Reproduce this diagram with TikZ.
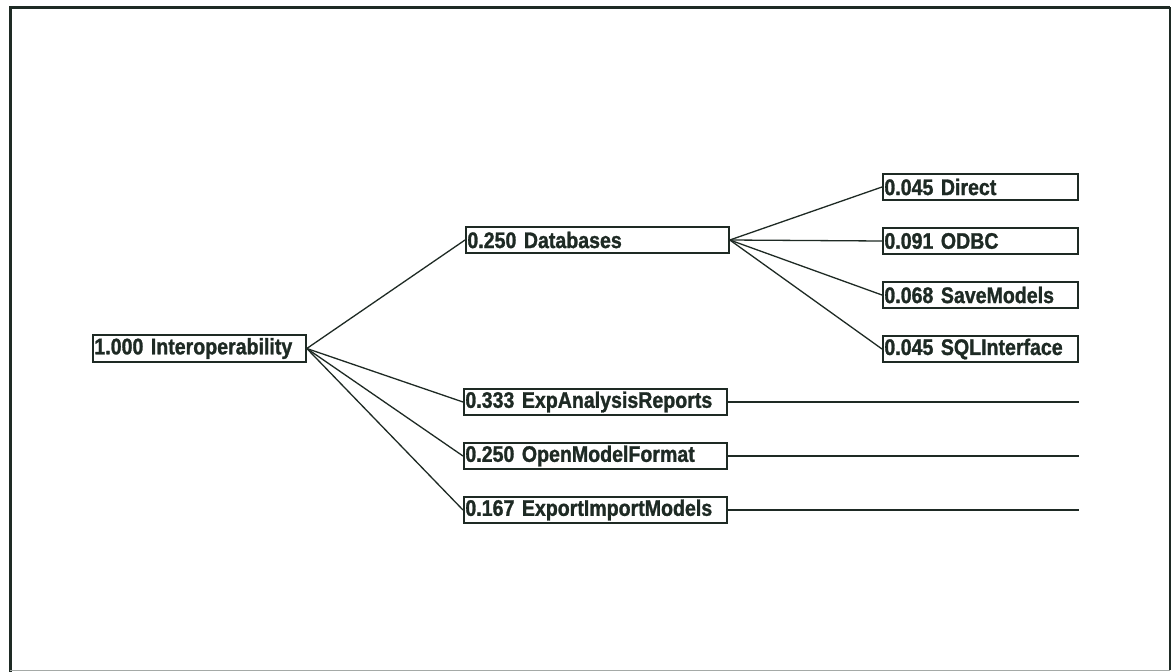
\documentclass[tikz,border=0pt]{standalone}
\usepackage{fontspec}
\setmainfont{Liberation Sans}
\newfontfamily\labfont[FakeStretch=0.87,BoldFeatures={FakeBold=1.2}]{Liberation Sans}
\definecolor{ink}{HTML}{1E2A24}
\begin{document}
\begin{tikzpicture}[x=1pt,y=-1pt,
  box/.style={draw=ink,line width=1.8pt,anchor=west,minimum height=26pt,
    inner xsep=1.5pt,inner ysep=0pt,align=left,font=\labfont\bfseries\fontsize{22.5}{24}\selectfont,text=ink},
  rootbox/.style={box,text width=210pt,minimum height=27pt},
  midbox/.style={box,text width=260pt},
  leafbox/.style={box,text width=192pt},
  link/.style={draw=ink,line width=1.3pt}]
\useasboundingbox (0,0) rectangle (1173,672);
\fill[white] (0,0) rectangle (1173,672);
% frame
\draw[ink,line width=3pt] (10,672) -- (10,7) -- (1170,7);
\draw[ink,line width=2pt] (1170,7) -- (1170,670);
\draw[ink!40,line width=1pt] (10,670) -- (1170,670);
% nodes
\node[rootbox] (root) at (92,348.5) {1.000 Interoperability};
\node[midbox] (db) at (465,240) {0.250 Databases};
\node[midbox] (exp) at (463,402) {0.333 ExpAnalysisReports};
\node[midbox] (omf) at (463,456) {0.250 OpenModelFormat};
\node[midbox] (eim) at (463,510) {0.167 ExportImportModels};
\node[leafbox] (dir) at (882,187) {0.045 Direct};
\node[leafbox] (odbc) at (882,241) {0.091 ODBC};
\node[leafbox] (save) at (882,295) {0.068 SaveModels};
\node[leafbox] (sql) at (882,349) {0.045 SQLInterface};
\coordinate (expE) at (1079,402);
\coordinate (omfE) at (1079,456);
\coordinate (eimE) at (1079,510);
% connectors
\foreach \t in {db,exp,omf,eim} \draw[link] (root.east) -- (\t.west);
\foreach \t in {dir,odbc,save,sql} \draw[link] (db.east) -- (\t.west);
\draw[link] (exp.east) -- (expE);
\draw[link] (omf.east) -- (omfE);
\draw[link] (eim.east) -- (eimE);
\end{tikzpicture}
\end{document}
